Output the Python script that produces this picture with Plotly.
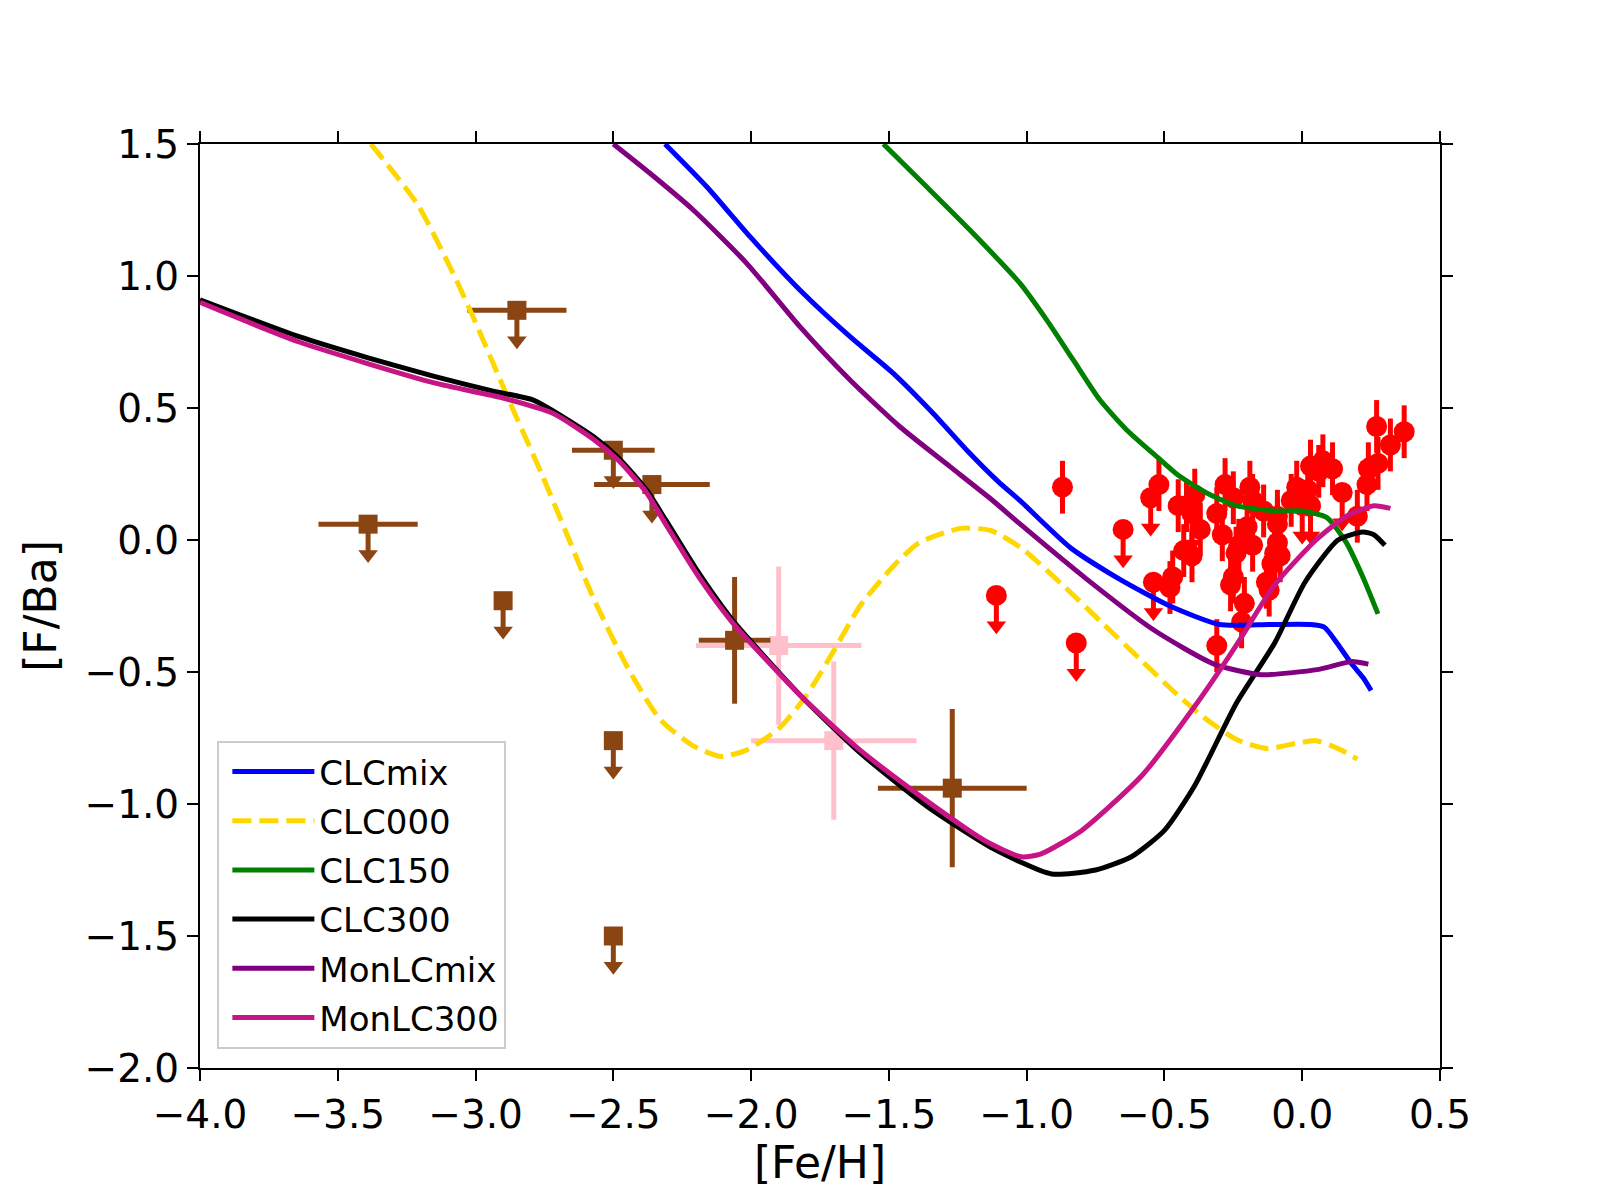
import plotly.graph_objects as go

# ---------------- model curves ----------------
clcmix_x = [-2.3125, -2.161, -2.004, -1.823, -1.641, -1.484, -1.339, -1.218, -1.103, -1.02, -0.84, -0.66, -0.48, -0.30, -0.12, 0.03, 0.08, 0.126, 0.18, 0.22, 0.25]
clcmix_y = [1.5, 1.338, 1.149, 0.947, 0.770, 0.631, 0.479, 0.341, 0.221, 0.145, -0.03, -0.15, -0.25, -0.32, -0.32, -0.32, -0.33, -0.39, -0.47, -0.52, -0.57]

clc000_x = [-3.38, -3.21, -3.07, -2.99, -2.875, -2.76, -2.668, -2.574, -2.45, -2.33, -2.21, -2.11, -2.015, -1.895, -1.80, -1.70, -1.605, -1.485, -1.39, -1.24, -1.13, -1.02, -0.87, -0.73, -0.58, -0.47, -0.36, -0.24, -0.13, -0.02, 0.05, 0.13, 0.20]
clc000_y = [1.5, 1.27, 0.985, 0.80, 0.52, 0.25, 0.02, -0.216, -0.48, -0.68, -0.78, -0.82, -0.795, -0.71, -0.59, -0.42, -0.25, -0.10, -0.01, 0.044, 0.036, -0.03, -0.17, -0.31, -0.46, -0.57, -0.67, -0.755, -0.79, -0.77, -0.76, -0.79, -0.83]

clc150_x = [-1.52, -1.363, -1.206, -1.024, -0.927, -0.831, -0.734, -0.637, -0.528, -0.45, -0.35, -0.24, -0.10, 0.0, 0.09, 0.16, 0.22, 0.275]
clc150_y = [1.5, 1.338, 1.174, 0.972, 0.833, 0.682, 0.530, 0.417, 0.316, 0.245, 0.18, 0.13, 0.11, 0.11, 0.085, -0.01, -0.14, -0.28]

clc300_x = [-4.0, -3.64, -3.39, -3.15, -2.94, -2.79, -2.72, -2.57, -2.48, -2.38, -2.31, -2.19, -2.07, -1.82, -1.60, -1.36, -1.12, -0.91, -0.75, -0.62, -0.50, -0.39, -0.24, -0.10, 0.01, 0.13, 0.22, 0.26, 0.30]
clc300_y = [0.91, 0.77, 0.69, 0.62, 0.565, 0.53, 0.49, 0.39, 0.31, 0.19, 0.076, -0.125, -0.30, -0.59, -0.81, -1.01, -1.17, -1.265, -1.25, -1.20, -1.10, -0.93, -0.62, -0.39, -0.16, 0.0, 0.03, 0.02, -0.02]

monlcmix_x = [-2.50, -2.367, -2.21, -2.016, -1.823, -1.641, -1.46, -1.278, -1.133, -1.02, -0.78, -0.54, -0.32, -0.15, 0.06, 0.18, 0.24]
monlcmix_y = [1.5, 1.389, 1.25, 1.048, 0.808, 0.606, 0.429, 0.278, 0.158, 0.057, -0.15, -0.34, -0.47, -0.51, -0.49, -0.46, -0.47]

monlc300_x = [-4.0, -3.64, -3.15, -2.91, -2.72, -2.57, -2.48, -2.38, -2.31, -2.19, -2.07, -1.82, -1.60, -1.36, -1.15, -1.02, -0.95, -0.80, -0.58, -0.39, -0.24, -0.10, 0.05, 0.16, 0.26, 0.32]
monlc300_y = [0.90, 0.75, 0.595, 0.54, 0.48, 0.38, 0.30, 0.18, 0.06, -0.14, -0.31, -0.59, -0.80, -0.99, -1.14, -1.20, -1.19, -1.10, -0.89, -0.63, -0.40, -0.17, 0.0, 0.09, 0.13, 0.12]

# ---------------- observations ----------------
# red: detections
red_x = [-0.87, -0.52, -0.47, -0.48, -0.45, -0.42, -0.39, -0.37, -0.43, -0.40, -0.31, -0.28, -0.25, -0.29,
         -0.19, -0.18, -0.14, -0.20, -0.23, -0.18, -0.24, -0.25, -0.26, -0.21, -0.22, -0.31, -0.09, -0.09,
         -0.10, -0.08, -0.11, -0.13, -0.12, -0.04, -0.02, 0.02, 0.03, 0.06, 0.075, 0.11, 0.20, 0.235, 0.24,
         0.275, 0.27, 0.32, 0.37, -0.09]
red_y = [0.20, 0.21, -0.14, -0.18, 0.13, 0.13, 0.17, 0.04, -0.04, -0.06, 0.10, 0.21, 0.16, 0.02,
         0.20, 0.15, 0.11, 0.05, -0.02, -0.02, -0.05, -0.14, -0.17, -0.24, -0.31, -0.40, 0.06, -0.01,
         -0.05, -0.06, -0.09, -0.16, -0.19, 0.15, 0.20, 0.19, 0.28, 0.26, 0.30, 0.27, 0.09, 0.21, 0.27,
         0.29, 0.43, 0.36, 0.41, 0.09]
red_err = [0.10] * len(red_x)
# red: upper limits
redlim_x = [-1.11, -0.82, -0.65, -0.55, -0.54, -0.40, 0.00, 0.03, 0.145]
redlim_y = [-0.21, -0.39, 0.04, 0.16, -0.16, 0.10, 0.13, 0.13, 0.18]

# brown: upper limits (x, y, x-error)
brlim_x = [-3.39, -2.85, -2.90, -2.50, -2.36, -2.50, -2.50]
brlim_y = [0.06, 0.87, -0.23, 0.34, 0.21, -0.76, -1.50]
brlim_xerr = [0.18, 0.18, 0.0, 0.15, 0.21, 0.0, 0.0]
# brown: detections
br_x = [-2.06, -1.27]
br_y = [-0.38, -0.94]
br_xerr = [0.13, 0.27]
br_yerr = [0.24, 0.30]
# pink: detections
pk_x = [-1.90, -1.70]
pk_y = [-0.40, -0.76]
pk_xerr = [0.30, 0.30]
pk_yerr = [0.30, 0.30]

# tick labels
xticks = [-4.0, -3.5, -3.0, -2.5, -2.0, -1.5, -1.0, -0.5, 0.0, 0.5]
xticktext = ["\u22124.0", "\u22123.5", "\u22123.0", "\u22122.5", "\u22122.0", "\u22121.5", "\u22121.0", "\u22120.5", "0.0", "0.5"]
yticks = [-2.0, -1.5, -1.0, -0.5, 0.0, 0.5, 1.0, 1.5]
yticktext = ["\u22122.0", "\u22121.5", "\u22121.0", "\u22120.5", "0.0", "0.5", "1.0", "1.5"]

# ---------------- styles ----------------
FONT = "DejaVu Sans"
LW = 5
EW = 5
PX_PER_Y = 924 / 3.5          # pixels per data unit on y axis
ARROW = 0.16                  # upper-limit arrow length (data units)
TRI = 17                      # triangle marker size
TRI_TIP = 0.7 * TRI / PX_PER_Y  # distance from triangle centre to tip (data)
ARROW_STEM = ARROW - TRI_TIP

RED = "#ff0000"
BROWN = "#8b4513"
PINK = "#ffc0cb"

fig = go.Figure()


def add_limits(xs, ys, color, xerr=None, marker_symbol="circle", msize=21):
    # stem + marker
    fig.add_trace(go.Scatter(
        x=xs, y=ys, mode="markers",
        marker=dict(symbol=marker_symbol, size=msize, color=color, line=dict(width=0)),
        error_y=dict(type="data", symmetric=False, array=[0] * len(xs),
                     arrayminus=[ARROW_STEM] * len(xs), color=color, thickness=EW, width=0),
        error_x=(dict(type="data", array=xerr, color=color, thickness=EW, width=0) if xerr else None),
        showlegend=False, hoverinfo="skip"))
    # arrow heads
    fig.add_trace(go.Scatter(
        x=xs, y=[v - ARROW_STEM for v in ys], mode="markers",
        marker=dict(symbol="triangle-down", size=TRI, color=color, line=dict(width=0)),
        showlegend=False, hoverinfo="skip"))


# pink points
fig.add_trace(go.Scatter(
    x=pk_x, y=pk_y, mode="markers",
    marker=dict(symbol="square", size=19, color=PINK, line=dict(width=0)),
    error_x=dict(type="data", array=pk_xerr, color=PINK, thickness=EW, width=0),
    error_y=dict(type="data", array=pk_yerr, color=PINK, thickness=EW, width=0),
    showlegend=False, hoverinfo="skip"))

# brown points
fig.add_trace(go.Scatter(
    x=br_x, y=br_y, mode="markers",
    marker=dict(symbol="square", size=19, color=BROWN, line=dict(width=0)),
    error_x=dict(type="data", array=br_xerr, color=BROWN, thickness=EW, width=0),
    error_y=dict(type="data", array=br_yerr, color=BROWN, thickness=EW, width=0),
    showlegend=False, hoverinfo="skip"))
add_limits(brlim_x, brlim_y, BROWN, xerr=brlim_xerr, marker_symbol="square", msize=19)

# red points
fig.add_trace(go.Scatter(
    x=red_x, y=red_y, mode="markers",
    marker=dict(symbol="circle", size=21, color=RED, line=dict(width=0)),
    error_y=dict(type="data", array=red_err, color=RED, thickness=EW, width=0),
    showlegend=False, hoverinfo="skip"))
add_limits(redlim_x, redlim_y, RED)

# model lines (drawn on top)
lines = [
    ("CLCmix", clcmix_x, clcmix_y, "#0000ff", "solid"),
    ("CLC000", clc000_x, clc000_y, "#ffd700", "19px,8px"),
    ("CLC150", clc150_x, clc150_y, "#008000", "solid"),
    ("CLC300", clc300_x, clc300_y, "#000000", "solid"),
    ("MonLCmix", monlcmix_x, monlcmix_y, "#800080", "solid"),
    ("MonLC300", monlc300_x, monlc300_y, "#c71585", "solid"),
]
for name, xs, ys, col, dash in lines:
    fig.add_trace(go.Scatter(
        x=xs, y=ys, mode="lines", name=name, legendgroup=name,
        line=dict(color=col, width=LW, dash=dash, shape="spline", smoothing=0.6)))

axis_common = dict(
    showline=True, linecolor="black", linewidth=2, mirror="ticks",
    ticks="outside", ticklen=11, tickwidth=2, tickcolor="black",
    showgrid=False, zeroline=False,
    tickfont=dict(family=FONT, size=39, color="black"),
)
fig.update_layout(
    width=1600, height=1200,
    paper_bgcolor="white", plot_bgcolor="white",
    margin=dict(l=192, r=168, t=136, b=140),
    font=dict(family=FONT, color="black"),
    xaxis=dict(range=[-4.0, 0.5], tickvals=xticks, ticktext=xticktext,
               title=dict(text="[Fe/H]", font=dict(family=FONT, size=44), standoff=10),
               **axis_common),
    yaxis=dict(range=[-2.0, 1.5], tickvals=yticks, ticktext=yticktext,
               title=dict(text="[F/Ba]", font=dict(family=FONT, size=44), standoff=14),
               **axis_common),
    legend=dict(x=0.014, y=0.354, xanchor="left", yanchor="top",
                bgcolor="rgba(255,255,255,0.8)", bordercolor="#cccccc", borderwidth=2,
                font=dict(family=FONT, size=34, color="black"),
                itemwidth=82, tracegroupgap=2, indentation=8),
    showlegend=True,
)

fig.write_html("out.html")
